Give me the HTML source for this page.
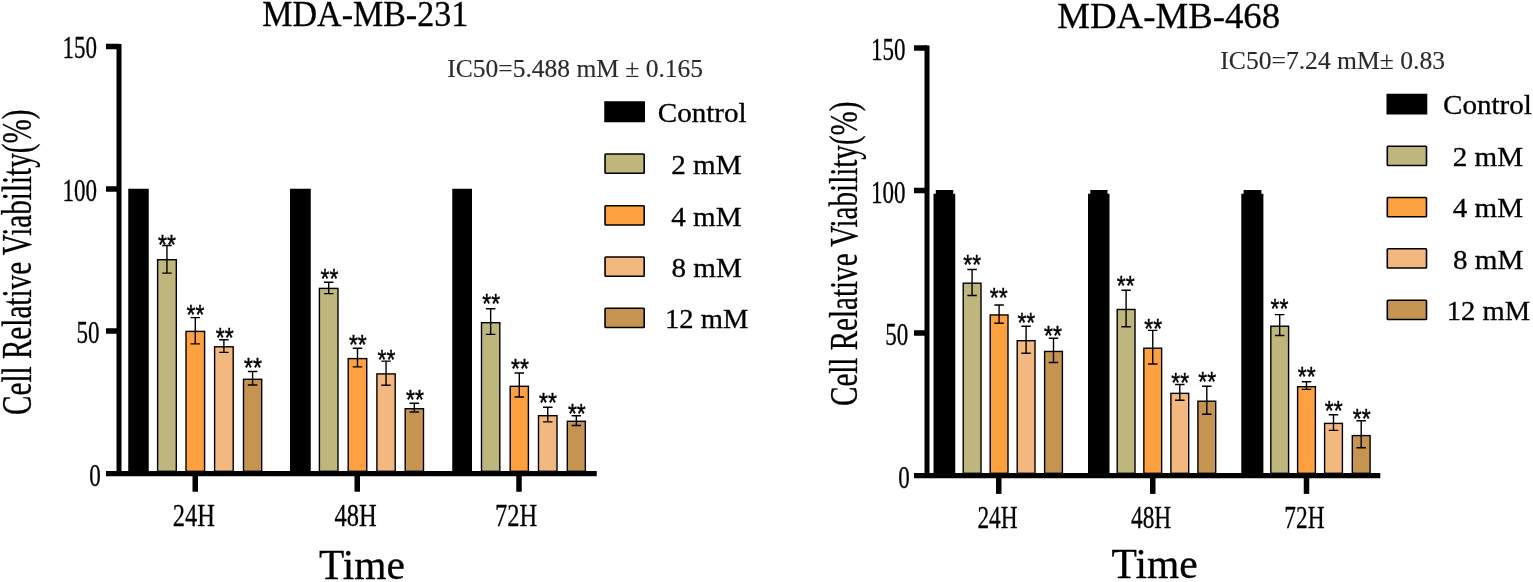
<!DOCTYPE html>
<html><head><meta charset="utf-8"><title>Cell Relative Viability</title>
<style>
html,body{margin:0;padding:0;background:#fff;}
svg{display:block;}
text{font-family:"Liberation Serif",serif;fill:#000;stroke:#000;stroke-width:0.3px;}
text.g{fill:#2b2b2b;stroke:#2b2b2b;stroke-width:0.15px;}
text.st{font-family:"Liberation Sans",sans-serif;font-size:23px;stroke:#000;stroke-width:0.35px;}
</style></head><body>
<svg width="1533" height="582" viewBox="0 0 1533 582">
<rect width="1533" height="582" fill="#fff"/>
<rect x="116.50" y="44.00" width="5.00" height="432.00" fill="#000"/>
<rect x="106.00" y="471.00" width="490.75" height="5.25" fill="#000"/>
<rect x="106.00" y="43.75" width="13.00" height="5.50" fill="#000"/>
<rect x="106.00" y="186.25" width="13.00" height="5.50" fill="#000"/>
<rect x="106.00" y="328.25" width="13.00" height="5.50" fill="#000"/>
<rect x="192.50" y="476.00" width="5.50" height="15.75" fill="#000"/>
<rect x="354.50" y="476.00" width="5.50" height="15.75" fill="#000"/>
<rect x="516.25" y="476.00" width="5.50" height="15.75" fill="#000"/>
<rect x="128.25" y="188.75" width="20.50" height="283.25" fill="#000"/>
<rect x="157.60" y="259.70" width="18.70" height="211.60" rx="0" fill="#BEB67C" stroke="#000" stroke-width="1.4"/>
<path d="M166.95 245.50V273.10M162.20 245.50h9.5M162.20 273.10h9.5" stroke="#000" stroke-width="1.4" fill="none"/>
<text class="st" transform="translate(166.90,253.70) scale(1.0,1.2)" text-anchor="middle">**</text>
<rect x="186.00" y="331.40" width="18.60" height="139.90" rx="0" fill="#FDA040" stroke="#000" stroke-width="1.4"/>
<path d="M195.30 317.60V343.90M190.55 317.60h9.5M190.55 343.90h9.5" stroke="#000" stroke-width="1.4" fill="none"/>
<text class="st" transform="translate(195.40,323.50) scale(1.0,1.2)" text-anchor="middle">**</text>
<rect x="214.60" y="346.80" width="18.60" height="124.50" rx="0" fill="#F3B880" stroke="#000" stroke-width="1.4"/>
<path d="M223.90 339.70V352.40M219.15 339.70h9.5M219.15 352.40h9.5" stroke="#000" stroke-width="1.4" fill="none"/>
<text class="st" transform="translate(224.65,346.90) scale(1.0,1.2)" text-anchor="middle">**</text>
<rect x="243.50" y="379.30" width="18.20" height="92.00" rx="0" fill="#C59450" stroke="#000" stroke-width="1.4"/>
<path d="M252.60 371.50V385.00M247.85 371.50h9.5M247.85 385.00h9.5" stroke="#000" stroke-width="1.4" fill="none"/>
<text class="st" transform="translate(252.90,377.40) scale(1.0,1.2)" text-anchor="middle">**</text>
<rect x="290.00" y="188.75" width="20.75" height="283.25" fill="#000"/>
<rect x="319.40" y="288.40" width="18.60" height="182.90" rx="0" fill="#BEB67C" stroke="#000" stroke-width="1.4"/>
<path d="M328.70 282.20V293.60M323.95 282.20h9.5M323.95 293.60h9.5" stroke="#000" stroke-width="1.4" fill="none"/>
<text class="st" transform="translate(329.40,287.70) scale(1.0,1.2)" text-anchor="middle">**</text>
<rect x="348.20" y="358.60" width="18.55" height="112.70" rx="0" fill="#FDA040" stroke="#000" stroke-width="1.4"/>
<path d="M357.48 348.20V366.90M352.73 348.20h9.5M352.73 366.90h9.5" stroke="#000" stroke-width="1.4" fill="none"/>
<text class="st" transform="translate(357.85,353.80) scale(1.0,1.2)" text-anchor="middle">**</text>
<rect x="376.90" y="373.90" width="18.30" height="97.40" rx="0" fill="#F3B880" stroke="#000" stroke-width="1.4"/>
<path d="M386.05 361.10V385.20M381.30 361.10h9.5M381.30 385.20h9.5" stroke="#000" stroke-width="1.4" fill="none"/>
<text class="st" transform="translate(386.45,369.40) scale(1.0,1.2)" text-anchor="middle">**</text>
<rect x="405.20" y="408.70" width="18.30" height="62.60" rx="0" fill="#C59450" stroke="#000" stroke-width="1.4"/>
<path d="M414.35 403.20V412.00M409.60 403.20h9.5M409.60 412.00h9.5" stroke="#000" stroke-width="1.4" fill="none"/>
<text class="st" transform="translate(415.05,409.30) scale(1.0,1.2)" text-anchor="middle">**</text>
<rect x="452.25" y="188.75" width="19.75" height="283.25" fill="#000"/>
<rect x="481.50" y="322.70" width="18.30" height="148.60" rx="0" fill="#BEB67C" stroke="#000" stroke-width="1.4"/>
<path d="M490.65 308.80V334.40M485.90 308.80h9.5M485.90 334.40h9.5" stroke="#000" stroke-width="1.4" fill="none"/>
<text class="st" transform="translate(491.25,313.30) scale(1.0,1.2)" text-anchor="middle">**</text>
<rect x="510.20" y="386.30" width="18.20" height="85.00" rx="0" fill="#FDA040" stroke="#000" stroke-width="1.4"/>
<path d="M519.30 373.00V397.00M514.55 373.00h9.5M514.55 397.00h9.5" stroke="#000" stroke-width="1.4" fill="none"/>
<text class="st" transform="translate(519.95,378.00) scale(1.0,1.2)" text-anchor="middle">**</text>
<rect x="538.50" y="415.70" width="18.50" height="55.60" rx="0" fill="#F3B880" stroke="#000" stroke-width="1.4"/>
<path d="M547.75 407.30V421.90M543.00 407.30h9.5M543.00 421.90h9.5" stroke="#000" stroke-width="1.4" fill="none"/>
<text class="st" transform="translate(547.90,412.40) scale(1.0,1.2)" text-anchor="middle">**</text>
<rect x="567.30" y="421.30" width="18.05" height="50.00" rx="0" fill="#C59450" stroke="#000" stroke-width="1.4"/>
<path d="M576.33 415.70V425.45M571.58 415.70h9.5M571.58 425.45h9.5" stroke="#000" stroke-width="1.4" fill="none"/>
<text class="st" transform="translate(576.85,423.40) scale(1.0,1.2)" text-anchor="middle">**</text>
<rect x="604.25" y="101.25" width="40.75" height="21.00" fill="#000"/>
<text class="t" font-size="28" transform="translate(657.75,122.25) scale(1.04,1)" text-anchor="start">Control</text>
<rect x="605.05" y="154.05" width="39.15" height="19.15" rx="0.8" fill="#BEB67C" stroke="#000" stroke-width="1.6"/>
<text class="t" font-size="28" transform="translate(671.25,173.75) scale(1.04,1)" text-anchor="start">2 mM</text>
<rect x="605.05" y="205.80" width="39.15" height="19.15" rx="0.8" fill="#FDA040" stroke="#000" stroke-width="1.6"/>
<text class="t" font-size="28" transform="translate(671.25,225.50) scale(1.04,1)" text-anchor="start">4 mM</text>
<rect x="605.05" y="257.05" width="39.15" height="19.15" rx="0.8" fill="#F3B880" stroke="#000" stroke-width="1.6"/>
<text class="t" font-size="28" transform="translate(671.50,276.75) scale(1.04,1)" text-anchor="start">8 mM</text>
<rect x="605.05" y="308.30" width="39.15" height="19.15" rx="0.8" fill="#C59450" stroke="#000" stroke-width="1.6"/>
<text class="t" font-size="28" transform="translate(665.05,328.00) scale(1.02,1)" text-anchor="start">12 mM</text>
<text class="t" font-size="36.3" transform="translate(262.30,26.00) scale(0.937,1)" text-anchor="start">MDA-MB-231</text>
<text class="g" font-size="25.5" transform="translate(447.25,77.00) scale(1,1)" text-anchor="start">IC50=5.488 mM ± 0.165</text>
<text class="t" font-size="42.3" transform="translate(319.00,578.90) scale(0.98,1)" text-anchor="start">Time</text>
<text class="t" font-size="32" transform="translate(97.00,58.00) scale(0.72,1)" text-anchor="end">150</text>
<text class="t" font-size="32" transform="translate(97.00,200.50) scale(0.72,1)" text-anchor="end">100</text>
<text class="t" font-size="32" transform="translate(99.50,343.00) scale(0.72,1)" text-anchor="end">50</text>
<text class="t" font-size="32" transform="translate(100.70,485.50) scale(0.72,1)" text-anchor="end">0</text>
<text class="t" font-size="32.6" transform="translate(172.80,526.30) scale(0.752,1)" text-anchor="start">24H</text>
<text class="t" font-size="32.6" transform="translate(334.40,526.30) scale(0.752,1)" text-anchor="start">48H</text>
<text class="t" font-size="32.6" transform="translate(495.00,526.30) scale(0.752,1)" text-anchor="start">72H</text>
<text class="t" font-size="41.5" transform="translate(31.00,415.00) rotate(-90) scale(0.703,1)">Cell Relative Viability(%)</text>
<rect x="924.50" y="45.50" width="5.00" height="432.50" fill="#000"/>
<rect x="914.00" y="473.00" width="466.30" height="5.25" fill="#000"/>
<rect x="914.00" y="45.25" width="13.00" height="5.50" fill="#000"/>
<rect x="914.00" y="187.75" width="13.00" height="5.50" fill="#000"/>
<rect x="914.00" y="330.25" width="13.00" height="5.50" fill="#000"/>
<rect x="996.00" y="478.00" width="5.50" height="15.90" fill="#000"/>
<rect x="1150.00" y="478.00" width="5.50" height="15.90" fill="#000"/>
<rect x="1303.75" y="478.00" width="5.50" height="15.90" fill="#000"/>
<rect x="933.50" y="193.75" width="21.75" height="280.25" fill="#000"/>
<rect x="935.80" y="190.00" width="17.45" height="4.75" fill="#000"/>
<rect x="963.20" y="283.20" width="17.80" height="190.10" rx="0" fill="#BEB67C" stroke="#000" stroke-width="1.4"/>
<path d="M972.10 269.50V295.50M967.35 269.50h9.5M967.35 295.50h9.5" stroke="#000" stroke-width="1.4" fill="none"/>
<text class="st" transform="translate(972.20,273.80) scale(1.0,1.2)" text-anchor="middle">**</text>
<rect x="990.20" y="314.95" width="17.80" height="158.35" rx="0" fill="#FDA040" stroke="#000" stroke-width="1.4"/>
<path d="M999.10 305.00V323.25M994.35 305.00h9.5M994.35 323.25h9.5" stroke="#000" stroke-width="1.4" fill="none"/>
<text class="st" transform="translate(998.65,307.40) scale(1.0,1.2)" text-anchor="middle">**</text>
<rect x="1017.20" y="340.70" width="17.80" height="132.60" rx="0" fill="#F3B880" stroke="#000" stroke-width="1.4"/>
<path d="M1026.10 326.30V353.25M1021.35 326.30h9.5M1021.35 353.25h9.5" stroke="#000" stroke-width="1.4" fill="none"/>
<text class="st" transform="translate(1026.35,332.40) scale(1.0,1.2)" text-anchor="middle">**</text>
<rect x="1044.60" y="351.45" width="17.80" height="121.85" rx="0" fill="#C59450" stroke="#000" stroke-width="1.4"/>
<path d="M1053.50 338.25V362.50M1048.75 338.25h9.5M1048.75 362.50h9.5" stroke="#000" stroke-width="1.4" fill="none"/>
<text class="st" transform="translate(1053.05,344.70) scale(1.0,1.2)" text-anchor="middle">**</text>
<rect x="1088.00" y="193.75" width="21.50" height="280.25" fill="#000"/>
<rect x="1090.30" y="190.00" width="17.20" height="4.75" fill="#000"/>
<rect x="1117.20" y="309.45" width="17.80" height="163.85" rx="0" fill="#BEB67C" stroke="#000" stroke-width="1.4"/>
<path d="M1126.10 290.20V326.70M1121.35 290.20h9.5M1121.35 326.70h9.5" stroke="#000" stroke-width="1.4" fill="none"/>
<text class="st" transform="translate(1125.80,295.20) scale(1.0,1.2)" text-anchor="middle">**</text>
<rect x="1143.85" y="348.20" width="17.80" height="125.10" rx="0" fill="#FDA040" stroke="#000" stroke-width="1.4"/>
<path d="M1152.75 330.40V364.00M1148.00 330.40h9.5M1148.00 364.00h9.5" stroke="#000" stroke-width="1.4" fill="none"/>
<text class="st" transform="translate(1153.30,338.40) scale(1.0,1.2)" text-anchor="middle">**</text>
<rect x="1170.90" y="393.35" width="17.80" height="79.95" rx="0" fill="#F3B880" stroke="#000" stroke-width="1.4"/>
<path d="M1179.80 384.50V400.30M1175.05 384.50h9.5M1175.05 400.30h9.5" stroke="#000" stroke-width="1.4" fill="none"/>
<text class="st" transform="translate(1180.15,392.10) scale(1.0,1.2)" text-anchor="middle">**</text>
<rect x="1197.90" y="401.20" width="17.80" height="72.10" rx="0" fill="#C59450" stroke="#000" stroke-width="1.4"/>
<path d="M1206.80 386.20V414.30M1202.05 386.20h9.5M1202.05 414.30h9.5" stroke="#000" stroke-width="1.4" fill="none"/>
<text class="st" transform="translate(1207.20,390.80) scale(1.0,1.2)" text-anchor="middle">**</text>
<rect x="1241.30" y="193.75" width="22.10" height="280.25" fill="#000"/>
<rect x="1243.60" y="190.00" width="17.80" height="4.75" fill="#000"/>
<rect x="1270.80" y="326.20" width="17.80" height="147.10" rx="0" fill="#BEB67C" stroke="#000" stroke-width="1.4"/>
<path d="M1279.70 314.60V335.50M1274.95 314.60h9.5M1274.95 335.50h9.5" stroke="#000" stroke-width="1.4" fill="none"/>
<text class="st" transform="translate(1279.45,318.00) scale(1.0,1.2)" text-anchor="middle">**</text>
<rect x="1297.60" y="386.70" width="17.80" height="86.60" rx="0" fill="#FDA040" stroke="#000" stroke-width="1.4"/>
<path d="M1306.50 381.80V389.40M1301.75 381.80h9.5M1301.75 389.40h9.5" stroke="#000" stroke-width="1.4" fill="none"/>
<text class="st" transform="translate(1306.80,385.60) scale(1.0,1.2)" text-anchor="middle">**</text>
<rect x="1324.60" y="423.40" width="17.80" height="49.90" rx="0" fill="#F3B880" stroke="#000" stroke-width="1.4"/>
<path d="M1333.50 414.80V430.40M1328.75 414.80h9.5M1328.75 430.40h9.5" stroke="#000" stroke-width="1.4" fill="none"/>
<text class="st" transform="translate(1333.80,419.60) scale(1.0,1.2)" text-anchor="middle">**</text>
<rect x="1352.30" y="435.60" width="17.80" height="37.70" rx="0" fill="#C59450" stroke="#000" stroke-width="1.4"/>
<path d="M1361.20 420.70V447.80M1356.45 420.70h9.5M1356.45 447.80h9.5" stroke="#000" stroke-width="1.4" fill="none"/>
<text class="st" transform="translate(1361.80,427.60) scale(1.0,1.2)" text-anchor="middle">**</text>
<rect x="1386.50" y="93.75" width="40.80" height="20.75" fill="#000"/>
<text class="t" font-size="28" transform="translate(1443.00,114.25) scale(1.04,1)" text-anchor="start">Control</text>
<rect x="1387.30" y="146.30" width="39.20" height="19.15" rx="0.8" fill="#BEB67C" stroke="#000" stroke-width="1.6"/>
<text class="t" font-size="28" transform="translate(1452.75,166.00) scale(1.04,1)" text-anchor="start">2 mM</text>
<rect x="1387.30" y="197.55" width="39.20" height="19.15" rx="0.8" fill="#FDA040" stroke="#000" stroke-width="1.6"/>
<text class="t" font-size="28" transform="translate(1452.75,217.25) scale(1.04,1)" text-anchor="start">4 mM</text>
<rect x="1387.30" y="248.80" width="39.20" height="19.15" rx="0.8" fill="#F3B880" stroke="#000" stroke-width="1.6"/>
<text class="t" font-size="28" transform="translate(1453.00,268.50) scale(1.04,1)" text-anchor="start">8 mM</text>
<rect x="1387.30" y="300.30" width="39.20" height="19.15" rx="0.8" fill="#C59450" stroke="#000" stroke-width="1.6"/>
<text class="t" font-size="28" transform="translate(1446.80,320.00) scale(1.02,1)" text-anchor="start">12 mM</text>
<text class="t" font-size="36.8" transform="translate(1057.30,28.00) scale(1,1)" text-anchor="start">MDA-MB-468</text>
<text class="g" font-size="25.6" transform="translate(1220.30,68.75) scale(1,1)" text-anchor="start">IC50=7.24 mM± 0.83</text>
<text class="t" font-size="42.3" transform="translate(1111.50,578.40) scale(0.983,1)" text-anchor="start">Time</text>
<text class="t" font-size="32" transform="translate(905.50,60.00) scale(0.72,1)" text-anchor="end">150</text>
<text class="t" font-size="32" transform="translate(905.50,202.50) scale(0.72,1)" text-anchor="end">100</text>
<text class="t" font-size="32" transform="translate(908.25,345.00) scale(0.72,1)" text-anchor="end">50</text>
<text class="t" font-size="32" transform="translate(909.70,487.50) scale(0.72,1)" text-anchor="end">0</text>
<text class="t" font-size="32" transform="translate(977.40,528.00) scale(0.73,1)" text-anchor="start">24H</text>
<text class="t" font-size="32" transform="translate(1131.00,528.00) scale(0.73,1)" text-anchor="start">48H</text>
<text class="t" font-size="32" transform="translate(1284.30,528.00) scale(0.73,1)" text-anchor="start">72H</text>
<text class="t" font-size="40" transform="translate(856.80,406.00) rotate(-90) scale(0.727,1)">Cell Relative Viability(%)</text>
</svg>
</body></html>
